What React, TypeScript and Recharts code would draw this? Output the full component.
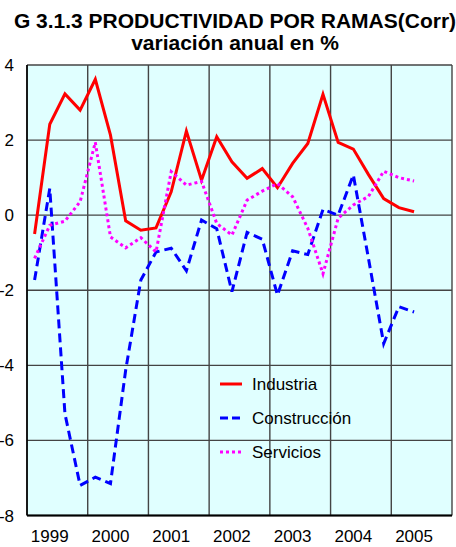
import React from "react";
import {
  LineChart,
  Line,
  XAxis,
  YAxis,
  CartesianGrid,
  ReferenceLine,
} from "recharts";

// quarterly data, 1999 Q1 .. 2005 Q2
const years = ["1999", "2000", "2001", "2002", "2003", "2004", "2005"];

const industria = [
  -0.5, 2.42, 3.23, 2.8, 3.62, 2.13, -0.15, -0.4, -0.34, 0.62, 2.24, 0.93, 2.09,
  1.42, 0.98, 1.24, 0.73, 1.38, 1.91, 3.22, 1.94, 1.76, 1.08, 0.44, 0.2, 0.09,
];
const construccion = [
  -1.73, 0.71, -5.29, -7.2, -6.98, -7.15, -4.13, -1.73, -0.98, -0.88, -1.48,
  -0.13, -0.36, -2.04, -0.46, -0.64, -2.13, -0.95, -1.05, 0.15, 0.0, 1.07, -1.16,
  -3.42, -2.44, -2.58,
];
const servicios = [
  -1.15, -0.27, -0.16, 0.36, 1.94, -0.58, -0.87, -0.6, -0.98, 1.16, 0.8, 0.9,
  -0.22, -0.53, 0.4, 0.64, 0.84, 0.49, -0.35, -1.56, -0.08, 0.27, 0.5, 1.17, 1.0,
  0.91,
];
const yTicks = [-8, -6, -4, -2, 0, 2, 4];

const series = [
  { key: "industria", name: "Industria", color: "#FF0000", dash: undefined },
  { key: "construccion", name: "Construcción", color: "#0000FF", dash: "9 5" },
  { key: "servicios", name: "Servicios", color: "#FF00FF", dash: "3 3" },
];

const data = industria.map((v, i) => ({
  q: i,
  industria: v,
  construccion: construccion[i],
  servicios: servicios[i],
}));

const yearTicks = years.map((_, k) => k * 4 + 1);
const yearBounds = years.map((_, k) => k * 4 + 3.5);

const FONT = "'Liberation Sans', Arial, sans-serif";

// legend sits inside the plot area, drawn as an overlay
const LegendBox = () => (
  <svg
    width={200}
    height={110}
    style={{ position: "absolute", left: 220, top: 370, display: "block" }}
  >
    {series.map((s, i) => (
      <g key={s.key} transform={`translate(0, ${14 + i * 34})`}>
        <line
          x1={0}
          x2={22}
          y1={0}
          y2={0}
          stroke={s.color}
          strokeWidth={3}
          strokeDasharray={s.key === "construccion" ? "8 4" : s.dash}
        />
        <text
          x={32}
          y={0}
          dy="0.35em"
          fontSize={17}
          fontFamily={FONT}
          fill="#000"
        >
          {s.name}
        </text>
      </g>
    ))}
  </svg>
);

export default function App() {
  return (
    <div
      style={{
        position: "absolute",
        left: 0,
        top: 0,
        width: 456,
        height: 547,
        overflow: "hidden",
        background: "#fff",
        fontFamily: FONT,
      }}
    >
      <svg
        width={456}
        height={60}
        style={{ position: "absolute", left: 0, top: 0, overflow: "visible" }}
      >
        <text
          x={235}
          y={28}
          textAnchor="middle"
          fontSize={21}
          fontWeight="bold"
          fontFamily={FONT}
        >
          G 3.1.3 PRODUCTIVIDAD POR RAMAS(Corr)
        </text>
        <text
          x={235}
          y={50}
          textAnchor="middle"
          fontSize={21}
          fontWeight="bold"
          fontFamily={FONT}
        >
          variación anual en %
        </text>
      </svg>
      <LineChart
        width={456}
        height={547}
        data={data}
        margin={{ top: 65, right: 4, left: 0, bottom: 0 }}
      >
        <CartesianGrid
          fill="#E0FFFF"
          stroke="#444"
          strokeWidth={1.4}
          vertical={false}
        />
        {yearBounds.map((b) => (
          <ReferenceLine key={b} x={b} stroke="#444" strokeWidth={1.4} />
        ))}
        <XAxis
          dataKey="q"
          type="number"
          domain={[-0.5, 27.5]}
          ticks={yearTicks}
          tickFormatter={(v: number) => years[(v - 1) / 4]}
          tickLine={false}
          tickSize={0}
          tickMargin={14}
          height={31.5}
          stroke="#000"
          strokeWidth={1.8}
          tick={{ fill: "#000", fontSize: 17, fontFamily: FONT }}
          interval={0}
          allowDecimals
        />
        <YAxis
          domain={[-8, 4]}
          ticks={yTicks}
          width={27}
          tickLine={false}
          tickSize={0}
          tickMargin={13}
          stroke="#000"
          strokeWidth={1.8}
          tick={{ fill: "#000", fontSize: 17, fontFamily: FONT }}
          interval={0}
        />
        {series.map((s) => (
          <Line
            key={s.key}
            type="linear"
            dataKey={s.key}
            name={s.name}
            stroke={s.color}
            strokeWidth={3}
            strokeDasharray={s.dash}
            dot={false}
            activeDot={false}
            isAnimationActive={false}
          />
        ))}
      </LineChart>
      <LegendBox />
    </div>
  );
}
